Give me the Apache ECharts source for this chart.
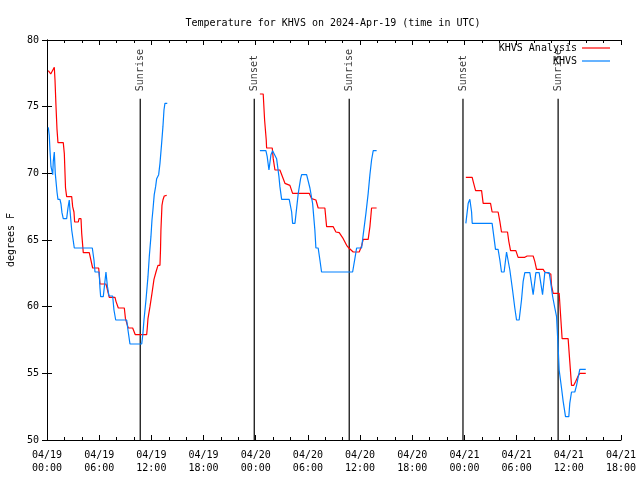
<!DOCTYPE html>
<html><head><meta charset="utf-8">
<script src="https://cdn.jsdelivr.net/npm/echarts@6/dist/echarts.min.js"></script>
<style>html,body{margin:0;padding:0;background:#fff}#c{width:640px;height:480px}</style>
</head><body><div id="c"></div>
<script>
const titleText = 'Temperature for KHVS on 2024-Apr-19 (time in UTC)';
const yAxisName = 'degrees F';
const xTickLabels = ['04/19\n00:00','04/19\n06:00','04/19\n12:00','04/19\n18:00',
  '04/20\n00:00','04/20\n06:00','04/20\n12:00','04/20\n18:00',
  '04/21\n00:00','04/21\n06:00','04/21\n12:00','04/21\n18:00'];
const analysisName = 'KHVS Analysis';
const obsName = 'KHVS';

// hours since 04/19 00:00 UTC, degrees F
const analysis1 = [[0.15,77.7],[0.43,77.45],[0.84,77.95],[0.92,77.0],[1.03,75.1],[1.15,73.3],[1.26,72.3],[1.87,72.3],[1.99,71.5],[2.13,68.9],[2.26,68.25],[2.84,68.25],[2.95,67.5],[3.10,67.1],[3.18,66.35],[3.60,66.35],[3.68,66.6],[3.91,66.6],[3.99,65.5],[4.17,64.05],[4.86,64.05],[5.02,63.9],[5.25,62.9],[5.94,62.9],[6.01,62.4],[6.09,61.7],[6.78,61.7],[6.90,61.4],[7.16,60.7],[7.82,60.7],[7.93,60.4],[8.20,59.9],[8.89,59.9],[9.02,59.1],[9.34,58.4],[9.85,58.4],[10.15,57.9],[11.46,57.9],[11.53,58.4],[11.61,59.1],[11.84,60.0],[12.07,61.0],[12.30,62.05],[12.53,62.6],[12.76,63.1],[12.99,63.1],[13.05,64.25],[13.10,65.75],[13.22,67.6],[13.33,68.0],[13.48,68.3],[13.76,68.35]];
const analysis2 = [[24.48,75.95],[24.86,75.95],[25.02,74.0],[25.21,72.5],[25.25,71.9],[25.90,71.9],[26.01,71.1],[26.21,70.25],[26.78,70.25],[26.98,70.1],[27.36,69.25],[27.55,69.1],[27.93,69.1],[28.24,68.5],[30.15,68.5],[30.43,68.1],[30.92,68.0],[31.18,67.4],[31.95,67.4],[32.15,66.0],[32.91,66.0],[33.22,65.6],[33.60,65.55],[34.06,65.1],[34.45,64.6],[34.71,64.4],[35.21,64.1],[35.90,64.1],[36.17,64.55],[36.36,65.05],[36.93,65.05],[37.13,66.0],[37.32,67.4],[37.90,67.4]];
const analysis3 = [[48.16,69.7],[48.89,69.7],[49.00,69.4],[49.28,68.7],[49.97,68.7],[50.15,67.75],[51.00,67.75],[51.18,67.1],[51.87,67.1],[52.07,66.4],[52.26,65.6],[52.95,65.6],[53.10,64.9],[53.30,64.2],[53.91,64.2],[54.17,63.7],[54.94,63.7],[55.21,63.8],[55.90,63.8],[56.09,63.4],[56.29,62.8],[57.05,62.8],[57.24,62.6],[57.44,62.45],[57.93,62.45],[58.01,61.6],[58.20,61.0],[58.89,61.0],[59.05,59.4],[59.23,57.6],[59.92,57.6],[60.11,55.9],[60.31,54.1],[60.57,54.1],[60.80,54.4],[61.07,54.8],[61.26,55.0],[61.95,55.0]];

const obs1 = [[0.15,73.45],[0.26,72.85],[0.34,71.75],[0.46,70.5],[0.66,69.9],[0.72,70.9],[0.84,71.6],[0.95,70.0],[1.15,68.6],[1.26,68.05],[1.49,68.05],[1.61,67.7],[1.72,67.05],[1.87,66.6],[2.26,66.6],[2.41,67.4],[2.56,68.0],[2.64,67.25],[2.84,65.75],[3.14,64.4],[5.21,64.4],[5.40,63.5],[5.52,62.6],[5.98,62.6],[6.03,62.2],[6.09,61.4],[6.17,60.75],[6.47,60.75],[6.78,62.6],[6.95,61.5],[7.13,60.8],[7.55,60.8],[7.70,59.75],[7.90,59.0],[9.16,59.0],[9.31,58.25],[9.54,57.2],[10.89,57.2],[11.03,58.0],[11.15,59.0],[11.38,60.5],[11.61,62.25],[11.76,63.75],[11.95,65.25],[12.07,66.5],[12.18,67.25],[12.33,68.4],[12.49,69.0],[12.61,69.6],[12.84,69.9],[12.99,70.75],[13.18,72.25],[13.33,73.5],[13.45,74.75],[13.56,75.25],[13.83,75.25]];
const obs2 = [[24.48,71.7],[25.17,71.7],[25.32,71.25],[25.52,70.25],[25.75,71.4],[25.94,71.7],[26.13,71.7],[26.40,71.1],[26.67,69.75],[26.78,69.0],[26.98,68.05],[27.85,68.05],[28.13,67.1],[28.24,66.25],[28.51,66.25],[28.89,68.5],[29.16,69.6],[29.28,69.9],[29.85,69.9],[30.23,68.9],[30.54,67.75],[30.80,65.75],[30.92,64.4],[31.18,64.4],[31.38,63.5],[31.57,62.6],[35.14,62.6],[35.40,63.6],[35.60,64.4],[36.17,64.4],[36.36,65.4],[36.67,67.0],[36.93,68.5],[37.13,69.9],[37.32,71.0],[37.51,71.7],[37.90,71.7]];
const obs3 = [[48.16,66.25],[48.43,67.75],[48.62,68.05],[48.82,67.1],[48.89,66.25],[51.18,66.25],[51.38,65.25],[51.57,64.3],[51.87,64.3],[52.07,63.5],[52.26,62.6],[52.56,62.6],[52.84,64.1],[52.95,64.1],[53.22,62.75],[53.53,61.25],[53.79,59.9],[53.99,59.0],[54.29,59.0],[54.56,60.5],[54.75,61.9],[54.94,62.55],[55.52,62.55],[55.90,60.9],[56.21,62.55],[56.59,62.55],[56.98,60.9],[57.24,62.55],[57.74,62.55],[57.90,61.9],[58.13,60.8],[58.39,59.9],[58.59,59.25],[58.77,57.0],[58.89,55.25],[59.16,53.9],[59.35,52.9],[59.62,51.75],[60.00,51.75],[60.11,52.75],[60.31,53.6],[60.69,53.6],[60.89,54.1],[61.07,54.7],[61.26,55.3],[61.95,55.3]];

const eventNames = ['Sunrise','Sunset','Sunrise','Sunset','Sunrise'];
const eventHours = [10.72, 23.83, 34.75, 47.83, 58.77];
const eventTop = 75.6;
const yMin = 50, yMax = 80;

const FONT = 'DejaVu Sans Mono';
const RED = '#ff0000', BLUE = '#0080ff';

const series = [];
eventHours.forEach(h => {
  series.push({type:'line', data:[[h,yMin],[h,eventTop]], symbol:'none', silent:true,
    lineStyle:{color:'#000', width:1.2}, z:1});
});
[analysis1, analysis2, analysis3].forEach(d => series.push({name:analysisName, type:'line', data:d,
  symbol:'none', lineStyle:{color:RED, width:1.2}, itemStyle:{color:RED}, z:3}));
[obs1, obs2, obs3].forEach(d => series.push({name:obsName, type:'line', data:d,
  symbol:'none', lineStyle:{color:BLUE, width:1.2}, itemStyle:{color:BLUE}, z:4}));
series.push({type:'scatter', symbol:'circle', symbolSize:1, itemStyle:{color:'rgba(0,0,0,0)'}, silent:true, z:2,
  data: eventHours.map((h,i)=>({value:[h,eventTop], name:eventNames[i]})),
  label:{show:true, formatter:'{b}', rotate:90, position:[1,-7], align:'left', verticalAlign:'middle',
    color:'#000', fontFamily:FONT, fontSize:10}});

const txt = {fontFamily:FONT, fontSize:10, color:'#000'};
const chart = echarts.init(document.getElementById('c'), null, {renderer:'canvas'});
chart.setOption({
  animation:false,
  backgroundColor:'#fff',
  title:{text:titleText, left:328, top:13, textAlign:'center',
    textStyle:{fontFamily:FONT, fontSize:10, fontWeight:'normal', color:'#000'}},
  legend:[
    {data:[analysisName], right:30, top:43, orient:'vertical', align:'right', icon:'rect', itemWidth:28, itemHeight:1.2,
      textStyle:txt, padding:0},
    {data:[obsName], right:30, top:56, orient:'vertical', align:'right', icon:'rect', itemWidth:28, itemHeight:1.2,
      textStyle:txt, padding:0}
  ],
  grid:{left:47, right:19, top:40, bottom:40, containLabel:false, outerBoundsMode:'none'},
  xAxis:[
    {type:'value', min:0, max:66, interval:6, position:'bottom',
      axisLine:{lineStyle:{color:'#000', width:1}},
      axisTick:{inside:true, length:5, lineStyle:{color:'#000'}},
      minorTick:{show:true, splitNumber:3, length:3, lineStyle:{color:'#000'}},
      splitLine:{show:false},
      axisLabel:{...txt, margin:9, lineHeight:13, formatter:v=>xTickLabels[Math.round(v/6)]}},
    {type:'value', min:0, max:66, interval:6, position:'top',
      axisLine:{lineStyle:{color:'#000', width:1}},
      axisTick:{inside:true, length:5, lineStyle:{color:'#000'}},
      minorTick:{show:true, splitNumber:3, length:3, lineStyle:{color:'#000'}},
      splitLine:{show:false}, axisLabel:{show:false}}
  ],
  yAxis:[
    {type:'value', min:yMin, max:yMax, interval:5, position:'left',
      name:yAxisName, nameLocation:'middle', nameRotate:90, nameGap:30, nameTextStyle:txt,
      axisLine:{show:true, lineStyle:{color:'#000', width:1}},
      axisTick:{show:true, inside:true, length:5, lineStyle:{color:'#000'}},
      splitLine:{show:false},
      axisLabel:{...txt, margin:8}},
    {type:'value', min:yMin, max:yMax, interval:5, position:'right',
      axisLine:{show:true, lineStyle:{color:'#000', width:1}},
      axisTick:{show:true, inside:true, length:5, lineStyle:{color:'#000'}},
      splitLine:{show:false}, axisLabel:{show:false}}
  ],
  series
});
</script></body></html>
